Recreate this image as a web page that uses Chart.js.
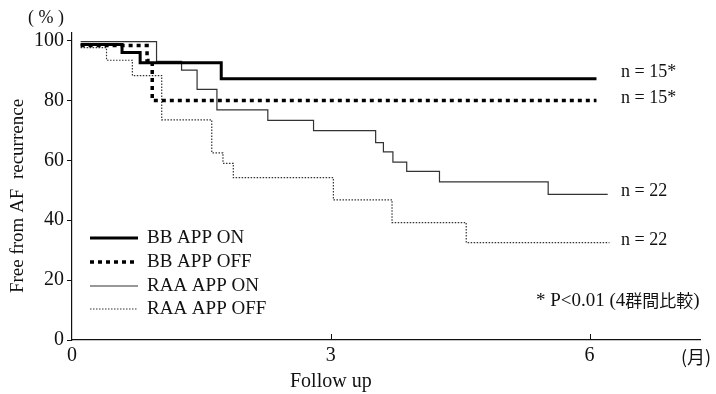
<!DOCTYPE html>
<html>
<head>
<meta charset="utf-8">
<script src="https://cdn.jsdelivr.net/npm/chart.js@4"></script>
<style>
  body { margin: 0; background: #fff; }
  #wrap { width: 716px; height: 394px; }
</style>
</head>
<body>
<div id="wrap"><canvas id="km" width="716" height="394"></canvas></div>
<script>
// step times (months) and survival (%)
const bbOnTime = [0.1, 0.58, 0.79, 1.73, 6.08];
const bbOnVal = [98.7, 96, 92.6, 87.2, 87.2];

const bbOffTime = [0.1, 0.87, 0.93, 6.08];
const bbOffVal = [98.3, 93.3, 80, 80];

const raaOnTime = [0.1, 0.98, 1.27, 1.45, 1.68, 2.27, 2.80, 3.52, 3.61, 3.72, 3.88, 4.26, 5.52, 6.21];
const raaOnVal = [99.6, 93, 90.1, 83.7, 76.8, 73.3, 69.9, 65.9, 62.8, 59.4, 56.3, 52.8, 48.6, 48.6];

const raaOffTime = [0.1, 0.40, 0.70, 1.04, 1.62, 1.75, 1.87, 3.03, 3.71, 4.57, 6.23];
const raaOffVal = [97.6, 93.4, 88.3, 73.5, 62.5, 59, 54.2, 46.8, 39.2, 32.5, 32.5];

const seriesNames = ["BB APP ON", "BB APP OFF", "RAA APP ON", "RAA APP OFF"];
const nLabels = ["n = 15*", "n = 15*", "n = 22", "n = 22"];
const yTicks = [0, 20, 40, 60, 80, 100];
const xTicks = [0, 3, 6];

const serif = "'Liberation Serif', 'DejaVu Serif', serif";
const ink = "#111";

const toPoints = (t, v) => t.map((x, i) => ({ x: x, y: v[i] }));

const lineStyles = [
    { borderColor: "#000", borderWidth: 3, borderDash: [] },
    { borderColor: "#000", borderWidth: 3.5, borderDash: [4, 4] },
    { borderColor: "#333", borderWidth: 1.2, borderDash: [] },
    { borderColor: "#333", borderWidth: 1.2, borderDash: [1.5, 1.5] }
];

const allData = [
    toPoints(bbOnTime, bbOnVal),
    toPoints(bbOffTime, bbOffVal),
    toPoints(raaOnTime, raaOnVal),
    toPoints(raaOffTime, raaOffVal)
];

const datasets = allData.map((pts, i) => ({
    label: seriesNames[i],
    data: pts,
    stepped: "before",
    fill: false,
    pointRadius: 0,
    borderColor: lineStyles[i].borderColor,
    borderWidth: lineStyles[i].borderWidth,
    borderDash: lineStyles[i].borderDash,
    borderCapStyle: "butt"
}));

const nOffset = [-7, -2, -3, -2];

// texts, legend and small marks around the plot
const extras = {
    id: "extras",
    afterDraw(chart) {
        const ctx = chart.ctx;
        const xs = chart.scales.x;
        const ys = chart.scales.y;
        ctx.save();
        ctx.fillStyle = ink;
        ctx.strokeStyle = ink;

        // x ticks pointing up
        ctx.lineWidth = 1;
        xTicks.slice(1).forEach((t) => {
            const px = Math.round(xs.getPixelForValue(t)) + 0.5;
            ctx.beginPath();
            ctx.moveTo(px, ys.bottom);
            ctx.lineTo(px, ys.bottom - 6);
            ctx.stroke();
        });

        // n labels at end of each curve
        ctx.font = "18px " + serif;
        ctx.textBaseline = "middle";
        ctx.textAlign = "left";
        allData.forEach((pts, i) => {
            const last = pts[pts.length - 1];
            ctx.fillText(nLabels[i], 621, ys.getPixelForValue(last.y) + nOffset[i]);
        });

        // legend
        ctx.font = "19px " + serif;
        const rowY = [238, 262, 286, 309];
        seriesNames.forEach((name, i) => {
            const st = lineStyles[i];
            ctx.save();
            ctx.strokeStyle = st.borderColor;
            ctx.lineWidth = st.borderWidth;
            ctx.setLineDash(st.borderDash);
            ctx.beginPath();
            ctx.moveTo(90, rowY[i]);
            ctx.lineTo(138, rowY[i]);
            ctx.stroke();
            ctx.restore();
            ctx.fillText(name, 147, rowY[i]);
        });

        // axis extras
        ctx.font = "18px " + serif;
        ctx.textAlign = "center";
        ctx.fillText("( % )", 46, 18);
        ctx.font = "20px " + serif;
        ctx.fillText("Follow up", xs.getPixelForValue(3), 382);
        ctx.font = "18px 'Noto Sans CJK JP', " + serif;
        ctx.fillText("(月)", 696, 357);

        ctx.textAlign = "left";
        const px0 = 536, py0 = 301;
        ctx.font = "19px " + serif;
        const p1 = "* P<0.01 (4";
        ctx.fillText(p1, px0, py0);
        const w1 = ctx.measureText(p1).width;
        ctx.font = "17px 'Noto Sans CJK JP', sans-serif";
        const p2 = "群間比較";
        ctx.fillText(p2, px0 + w1, py0);
        const w2 = ctx.measureText(p2).width;
        ctx.font = "19px " + serif;
        ctx.fillText(")", px0 + w1 + w2, py0);

        // y axis title
        ctx.save();
        ctx.translate(18, 196);
        ctx.rotate(-Math.PI / 2);
        ctx.font = "19px " + serif;
        ctx.textAlign = "center";
        ctx.fillText("Free from AF  recurrence", 0, 0);
        ctx.restore();

        ctx.restore();
    }
};

const chart = new Chart(document.getElementById("km").getContext("2d"), {
    type: "line",
    data: { datasets: datasets },
    options: {
        responsive: false,
        animation: false,
        layout: { padding: { left: 0, right: 16, top: 33, bottom: 0 } },
        plugins: {
            legend: { display: false },
            tooltip: { enabled: false }
        },
        scales: {
            x: {
                type: "linear",
                min: 0,
                max: 7.28,
                afterBuildTicks: (axis) => { axis.ticks = xTicks.map((v) => ({ value: v })); },
                afterFit: (axis) => { axis.height = 54; },
                grid: { display: false, drawTicks: false },
                border: { display: true, color: ink, width: 1.2 },
                ticks: { color: ink, font: { family: serif, size: 20 }, padding: 4 }
            },
            y: {
                min: 0,
                max: 102.5,
                afterBuildTicks: (axis) => { axis.ticks = yTicks.map((v) => ({ value: v })); },
                afterFit: (axis) => { axis.width = 72; },
                grid: { display: true, drawOnChartArea: false, drawTicks: true, tickLength: 5, color: ink },
                border: { display: true, color: ink, width: 1.2 },
                ticks: { color: ink, font: { family: serif, size: 20 }, padding: 3 }
            }
        }
    },
    plugins: [extras]
});
</script>
</body>
</html>
